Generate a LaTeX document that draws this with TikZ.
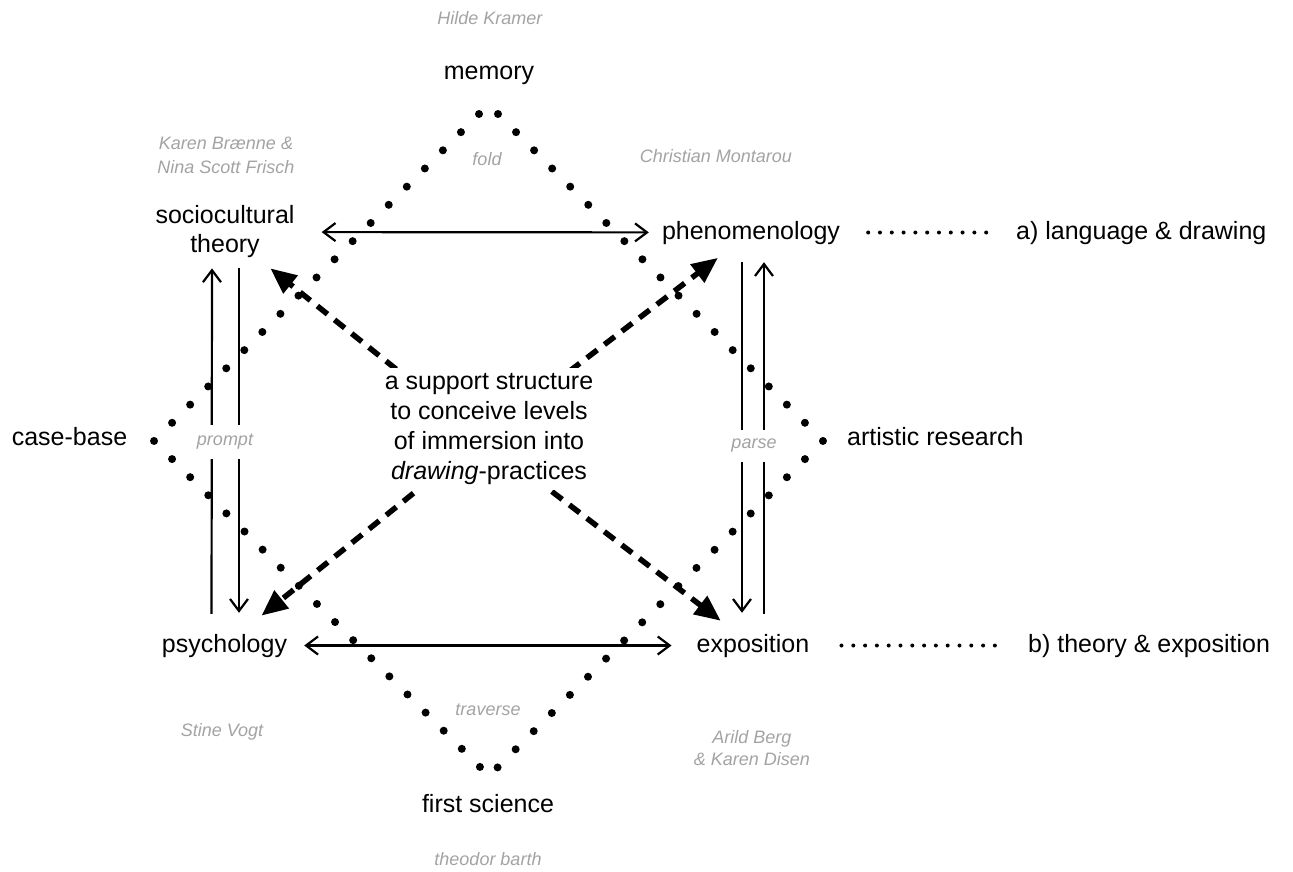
\documentclass[tikz,border=0pt]{standalone}
\usepackage{fontspec}
\setmainfont{Liberation Sans}
\usetikzlibrary{arrows.meta,calc,positioning}
\def\bigsz{\fontsize{25}{29}\selectfont}
\def\smsz{\fontsize{18}{22}\selectfont}
\colorlet{lbl}{black!36}
\tikzset{
	tm/.style={font=\bigsz,inner sep=10pt,text height=18pt,text depth=5pt},
	nm/.style={font=\smsz\itshape,text=lbl,inner sep=2pt},
	vb/.style={font=\smsz\itshape,text=lbl,fill=white,inner sep=2pt},
	lk/.style={line width=2.2pt},
	dashArrow/.style={line width=5.5pt,dash pattern=on 13pt off 9pt,-{Triangle[length=26pt,width=22pt]}},
	bigDots/.style={line width=8pt,line cap=round,dash pattern=on 0pt off 25.61pt},
	smallDots/.style={line width=4pt,line cap=round,dash pattern=on 0pt off 11.8pt}
}

\begin{document}
\begin{tikzpicture}[x=1pt,y=-1pt,>={Straight Barb[length=12pt,width=18pt]}]
    \useasboundingbox (0,0) rectangle (1293,872);
    % dotted diamond
    \coordinate (tl) at (479,114);
    \coordinate (cl) at (154,441);
    \coordinate (bl) at (481,768);
    \coordinate (tr) at (498,114);
    \coordinate (cr) at (823,441);
    \coordinate (br) at (497,768);
    \draw[bigDots] (tl) -- (cl) -- (bl);
    \draw[bigDots] (tr) -- (cr) -- (br);

    \node (hilde) [nm,anchor=base] at (490,25) {Hilde Kramer};
    \node (mem) [tm,anchor=base] at (489,80) {memory};
    \node (fold) [nm,anchor=base] at (487,165) {fold};
    \node (karen) [nm,align=center,font=\fontsize{18}{24}\selectfont\itshape] at (226,155) {Karen Brænne \&\\Nina Scott Frisch};
    \node (chris) [nm,anchor=base] at (716,162) {Christian Montarou};
    \node (socio) [font=\bigsz,inner sep=10pt,align=center] at (225,232) {sociocultural\\theory};
    \node (phen) [tm,anchor=base] at (751,239) {phenomenology};
    \node (lang) [tm,anchor=base west] at (1006,239) {a) language \& drawing};
    \node (caseb) [tm,anchor=base] at (69.5,445) {case-base};
    \node (artr) [tm,anchor=base west] at (837,445) {artistic research};
    \node (psych) [tm,anchor=base] at (224.5,652) {psychology};
    \node (expo) [tm,anchor=base] at (753,652) {exposition};
    \node (theo) [tm,anchor=base west] at (1018,652) {b) theory \& exposition};
    \node (stine) [nm,anchor=base] at (222,736) {Stine Vogt};
    \node (trav) [nm,anchor=base] at (488,715) {traverse};
    \node (arild) [nm,align=center,font=\fontsize{18}{22}\selectfont\itshape] at (752,748) {Arild Berg\\\& Karen Disen};
    \node (first) [tm,anchor=base] at (488,812) {first science};
    \node (thb) [nm,anchor=base] at (488,865) {theodor barth};

    \draw[lk,<->,shorten <=17pt,shorten >=3pt] (socio) -- (phen);
    \draw[lk,<->,shorten <=7pt,shorten >=15pt] (psych) -- (expo);
    \draw[lk,->,shorten <=10pt] ([xshift=-13pt]psych.north) -- ([xshift=-13pt]socio.south);
    \draw[lk,->,shorten >=11pt] ([xshift=14pt]socio.south) -- ([xshift=14.5pt]psych.north);
    \draw[lk,->,shorten <=8pt,shorten >=11pt] ([xshift=-9pt]phen.south) -- ([xshift=-11pt]expo.north);
    \draw[lk,->,shorten <=10pt,shorten >=8pt] ([xshift=11pt]expo.north) -- ([xshift=13pt]phen.south);

    \draw[smallDots,shorten <=18pt,shorten >=11pt] (phen) -- (lang);
    \draw[smallDots,shorten <=22pt,shorten >=12pt] (expo) -- (theo);

    \coordinate (hub) at (482,438);
    \draw[dashArrow] (hub) -- (socio);
    \draw[dashArrow,shorten >=6pt] (hub) -- (phen);
    \draw[dashArrow,shorten >=13pt] (hub) -- (psych);
    \draw[dashArrow,shorten >=5pt] (hub) -- (expo);

    \node (core) [fill=white,inner sep=5pt,align=center,font=\fontsize{25}{30}\selectfont] at (489,429) {a support structure\\to conceive levels\\of immersion into\\\textit{drawing}-practices};
    \node (prompt) [vb,minimum height=34pt] at (225,442) {prompt};
    \node (parse) [vb,minimum height=32pt] at (754,446) {parse};
\end{tikzpicture}
\end{document}
